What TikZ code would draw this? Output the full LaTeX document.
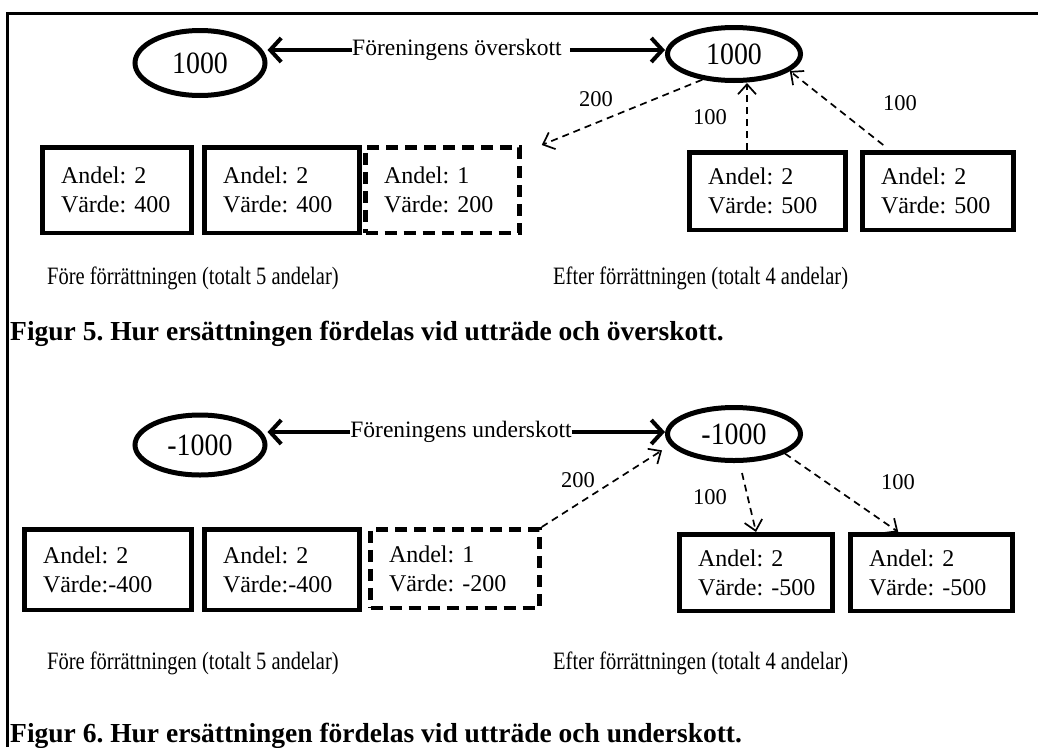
\documentclass[tikz,border=0pt]{standalone}
\usepackage{fontspec}
\setmainfont{Liberation Serif}
\newfontfamily\narrowfont{Liberation Serif}[FakeStretch=0.82]
\newfontfamily\numfont{Liberation Serif}[FakeStretch=0.9]
\usetikzlibrary{arrows.meta,shapes.geometric,calc}
\begin{document}
\frenchspacing
\begin{tikzpicture}[x=1pt,y=-1pt,
  every node/.style={inner sep=0pt},
  txt/.style={font=\narrowfont\fontsize{25}{28}\selectfont},
  ftxt/.style={font=\fontsize{23.5}{28}\selectfont},
  figcap/.style={font=\fontsize{27.5}{30}\selectfont\bfseries},
  ell/.style={draw, ellipse, line width=5pt, font=\numfont\fontsize{31}{32}\selectfont},
  box/.style={draw, line width=4.5pt, inner xsep=18.5pt, inner ysep=0pt, align=left,
    font=\fontsize{24}{29}\selectfont,
    execute at begin node={\exhyphenpenalty=10000\hyphenpenalty=10000\relax}},
  dbox/.style={box, dash pattern=on 12pt off 7pt},
  big/.style={line width=4pt, -{Straight Barb[length=11pt,width=24pt]}},
  dar/.style={line width=1.7pt, dash pattern=on 7pt off 5pt, -{Straight Barb[length=10pt,width=18pt]}},
  lab/.style={font=\fontsize{22.5}{24}\selectfont},
]
\useasboundingbox (0,0) rectangle (1038,747);
\draw[line width=3pt] (7,747) -- (7,13) -- (1038,13);

% ---------- Figur 5 ----------
\node[ell, minimum width=130pt, minimum height=65pt] (E1) at (200,63) {1000};
\node[ell, minimum width=133pt, minimum height=53pt] (E2) at (734,54) {1000};
\node[ftxt] (fo) at (457,50) {Föreningens överskott};
\draw[big] (fo.west) -- (fo.west -| E1.east);
\draw[big] ([xshift=8pt]fo.east) -- (fo.east -| E2.west);

\node[box, text width=112pt, minimum height=85.5pt] (A1) at (117,190) {Andel:~2\\Värde:~400};
\node[box, text width=118pt, minimum height=85.5pt] (A2) at (282,190) {Andel:~2\\Värde:~400};
\node[dbox, text width=117pt, minimum height=85.5pt] (A3) at (442.5,190) {Andel:~1\\Värde:~200};
\node[box, text width=119pt, minimum height=77.5pt] (A4) at (767.5,191) {Andel:~2\\Värde:~500};
\node[box, text width=114pt, minimum height=77.5pt] (A5) at (938,191) {Andel:~2\\Värde:~500};

\coordinate (t1) at ([xshift=20pt]A3.north east);
\draw[dar] (E2.219) -- (t1);
\node[lab] (l1) at (596,99) {200};
\coordinate (s2) at ([xshift=-20.5pt]A4.north);
\draw[dar] (s2) -- (s2 |- E2.south);
\node[lab] (l2) at (710,117) {100};
\coordinate (s3) at ([xshift=23pt,yshift=5pt]A5.north west);
\draw[dar] (s3) -- (E2.-17);
\node[lab] (l3) at (900,103) {100};

\node[txt, anchor=base west] (c1) at (47,284) {Före förrättningen (totalt 5 andelar)};
\node[txt, anchor=base west] (c2) at (553,284) {Efter förrättningen (totalt 4 andelar)};
\node[figcap, anchor=base west] (f5) at (10,340) {Figur 5. Hur ersättningen fördelas vid utträde och överskott.};

% ---------- Figur 6 ----------
\node[ell, minimum width=130pt, minimum height=60pt] (E3) at (200,445) {-1000};
\node[ell, minimum width=133pt, minimum height=53pt] (E4) at (734,434) {-1000};
\node[ftxt] (fu) at (461,432) {Föreningens underskott};
\draw[big] (fu.west) -- (fu.west -| E3.east);
\draw[big] (fu.east) -- (fu.east -| E4.west);

\node[box, text width=130pt, minimum height=80.5pt] (B1) at (108,569.5) {Andel:~2\\Värde:-400};
\node[box, text width=118pt, minimum height=80.5pt] (B2) at (282,569.5) {Andel:~2\\Värde:-400};
\node[dbox, text width=132pt, minimum height=78.5pt] (B3) at (455,568.5) {Andel:~1\\Värde:~-200};
\node[box, text width=116pt, minimum height=76.5pt] (B4) at (756,572.5) {Andel:~2\\Värde:~-500};
\node[box, text width=125pt, minimum height=76.5pt] (B5) at (931.5,572.5) {Andel:~2\\Värde:~-500};

\coordinate (t4) at ([xshift=-15pt]E4.196);
\draw[dar] (B3.north east) -- (t4);
\node[lab] (l4) at (578,480) {200};
\coordinate (s5) at ([xshift=8pt,yshift=-10pt]E4.south);
\draw[dar] (s5) -- (B4.north);
\node[lab] (l5) at (710,497) {100};
\coordinate (t6) at ([xshift=50pt]B5.north west);
\draw[dar] (E4.-21) -- (t6);
\node[lab] (l6) at (898,482) {100};

\node[txt, anchor=base west] (c3) at (47,669) {Före förrättningen (totalt 5 andelar)};
\node[txt, anchor=base west] (c4) at (553,669) {Efter förrättningen (totalt 4 andelar)};
\node[figcap, anchor=base west] (f6) at (10,742) {Figur 6. Hur ersättningen fördelas vid utträde och underskott.};
\end{tikzpicture}
\end{document}
